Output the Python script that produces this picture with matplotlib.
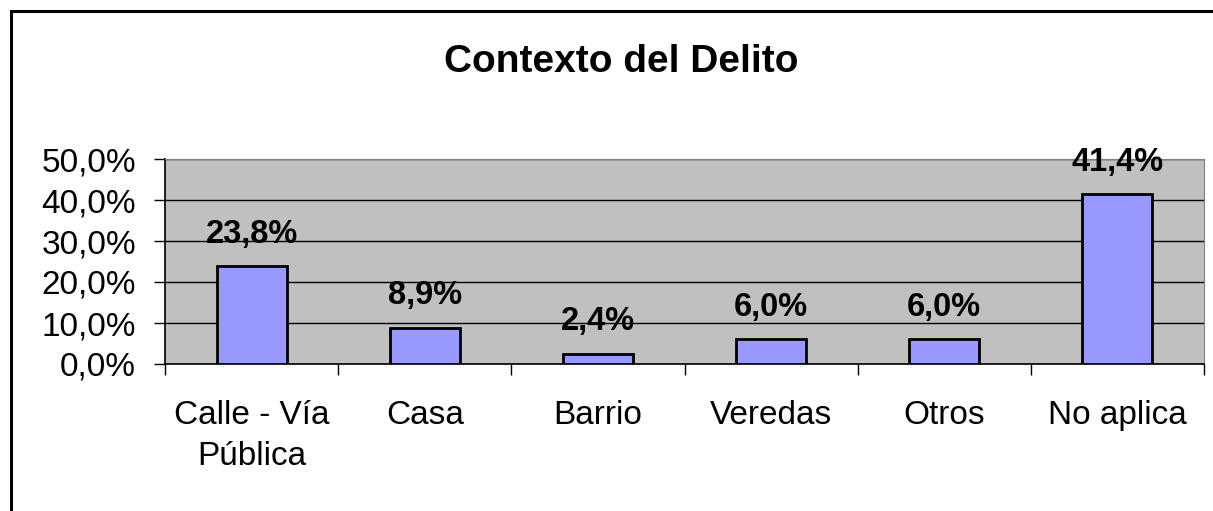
import matplotlib.pyplot as plt
from matplotlib.patches import Rectangle

categorias = ["Calle - Vía\nPública", "Casa", "Barrio", "Veredas", "Otros", "No aplica"]
valores = [23.8, 8.9, 2.4, 6.0, 6.0, 41.4]
etiquetas = ["23,8%", "8,9%", "2,4%", "6,0%", "6,0%", "41,4%"]
yticks = [0, 10, 20, 30, 40, 50]
ytick_labels = ["0,0%", "10,0%", "20,0%", "30,0%", "40,0%", "50,0%"]

plt.rcParams['font.family'] = ['Liberation Sans', 'DejaVu Sans']

fig = plt.figure(figsize=(12.13, 5.11), dpi=100)
# marco del grafico (solo se ve arriba e izquierda)
fig.patches.append(Rectangle((11/1213, -0.1), 1.2, 1 - 11/511 + 0.1, transform=fig.transFigure,
                             fill=False, edgecolor="black", linewidth=2.2))

ax = fig.add_axes([165/1213, 1 - 364/511, (1204 - 165)/1213, (364 - 159)/511])
ax.set_facecolor("#C0C0C0")

x = range(len(categorias))
ax.bar(x, valores, width=0.405, color="#9999FF", edgecolor="black", linewidth=2, zorder=3)

for i, (v, t) in enumerate(zip(valores, etiquetas)):
    ax.annotate(t, (i, v), xytext=(0, 12), textcoords="offset points",
                ha="center", va="bottom", fontsize=23.5, fontweight="bold")

ax.set_xlim(-0.5, len(categorias) - 0.5)
ax.set_ylim(0, 50)
ax.set_yticks(yticks)
ax.set_yticklabels(ytick_labels, fontsize=24)
ax.yaxis.grid(True, color="black", linewidth=1)
ax.set_axisbelow(True)

ax.set_xticks([i - 0.5 for i in range(len(categorias) + 1)])
ax.set_xticklabels([])
ax.set_xticks(list(x), minor=True)
ax.set_xticklabels(categorias, minor=True, fontsize=24, linespacing=1.43)
ax.tick_params(axis="x", which="minor", length=0, pad=26)
ax.tick_params(axis="x", which="major", length=8, width=1, direction="out")
ax.tick_params(axis="y", length=8, width=1, direction="out", pad=13)

ax.spines["top"].set_color("#808080")
ax.spines["right"].set_color("#808080")
ax.spines["left"].set_linewidth(1.2)
ax.spines["bottom"].set_linewidth(1.2)

fig.text(0.512, 1 - 72/511, "Contexto del Delito", ha="center", va="baseline",
         fontsize=28, fontweight="bold")

fig.savefig("out.png", dpi=100)
